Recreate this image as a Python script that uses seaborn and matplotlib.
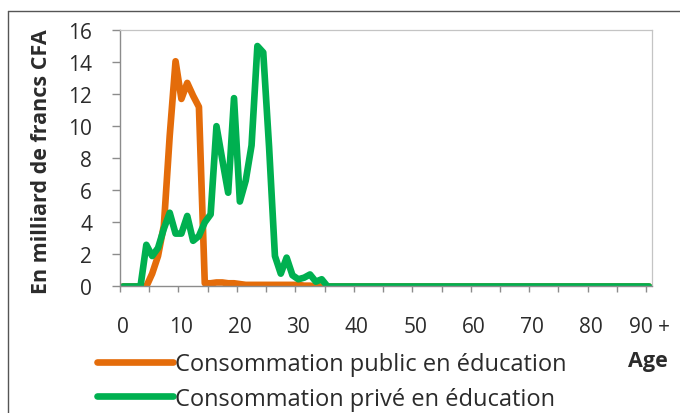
import numpy as np
import pandas as pd
import matplotlib
matplotlib.use("Agg")
import matplotlib.pyplot as plt
import seaborn as sns
from matplotlib.lines import Line2D

# ages 0 .. 90+ (one category per year)
ages = list(range(0, 91))

# consommation publique en education (milliards FCFA)
conso_public = [
    0, 0, 0, 0, 0, 0.8, 1.9, 3.8, 9.4, 14.05,
    11.7, 12.7, 11.9, 11.2, 0.2, 0.2, 0.25, 0.25, 0.2, 0.2,
    0.15, 0.1, 0.1, 0.1, 0.1, 0.1, 0.1, 0.1, 0.1, 0.1,
    0.1, 0.05, 0.05, 0, 0, 0, 0, 0, 0, 0,
    0, 0, 0, 0, 0, 0, 0, 0, 0, 0,
    0, 0, 0, 0, 0, 0, 0, 0, 0, 0,
    0, 0, 0, 0, 0, 0, 0, 0, 0, 0,
    0, 0, 0, 0, 0, 0, 0, 0, 0, 0,
    0, 0, 0, 0, 0, 0, 0, 0, 0, 0,
    0,
]

# consommation privee en education (milliards FCFA)
conso_prive = [
    0, 0, 0, 0, 2.6, 1.9, 2.4, 3.6, 4.6, 3.3,
    3.3, 4.4, 2.85, 3.15, 4.0, 4.5, 10.0, 7.9, 5.85, 11.75,
    5.3, 6.6, 8.8, 15.0, 14.6, 8.7, 1.9, 0.8, 1.8, 0.7,
    0.45, 0.55, 0.75, 0.3, 0.45, 0, 0, 0, 0, 0,
    0, 0, 0, 0, 0, 0, 0, 0, 0, 0,
    0, 0, 0, 0, 0, 0, 0, 0, 0, 0,
    0, 0, 0, 0, 0, 0, 0, 0, 0, 0,
    0, 0, 0, 0, 0, 0, 0, 0, 0, 0,
    0, 0, 0, 0, 0, 0, 0, 0, 0, 0,
    0,
]

series_labels = ["Consommation public en éducation", "Consommation privé en éducation"]
x_labels = ["0", "10", "20", "30", "40", "50", "60", "70", "80", "90 +"]

orange = "#E46C0A"
green = "#00B050"
txt = "#2b2b2b"

sns.set_style("white")
plt.rcParams['font.family'] = ['Open Sans', 'DejaVu Sans']

df = pd.DataFrame({"age": ages, "public": conso_public, "prive": conso_prive})
# category axis: each age sits in the middle of its slot
df["pos"] = df["age"] + 0.5

fig = plt.figure(figsize=(6.8, 4.14), dpi=100)
ax = fig.add_axes([0.1765, 0.3056, 0.7823, 0.6195])

sns.lineplot(data=df, x="pos", y="public", ax=ax, color=orange, lw=4.8,
             label=series_labels[0], solid_joinstyle="round", solid_capstyle="round")
sns.lineplot(data=df, x="pos", y="prive", ax=ax, color=green, lw=4.8,
             label=series_labels[1], solid_joinstyle="round", solid_capstyle="round")

ax.set_xlim(0, 91)
ax.set_ylim(0, 16)
ax.set_xlabel("")
ax.set_ylabel("")

for side in ["left", "bottom"]:
    ax.spines[side].set_color("#8c8c8c")
    ax.spines[side].set_linewidth(1.0)
for side in ["top", "right"]:
    ax.spines[side].set_color("#c4c4c4")
    ax.spines[side].set_linewidth(0.9)

ax.set_yticks(np.arange(0, 17, 2))
ax.tick_params(axis="y", direction="out", length=6, width=1, color="#8c8c8c",
               pad=14, labelsize=15, labelcolor=txt, left=True)

ax.set_xticks(np.arange(0, 91, 5))
ax.set_xticklabels([])
ax.set_xticks([a + 0.5 for a in ages[::10]], minor=True)
ax.set_xticklabels(x_labels, minor=True)
ax.tick_params(axis="x", which="major", direction="out", length=4.5, width=1,
               color="#8c8c8c", bottom=True)
ax.tick_params(axis="x", which="minor", length=0, pad=21, labelsize=15, labelcolor=txt)

handles, labels = ax.get_legend_handles_labels()
ax.get_legend().remove()
fig.legend(handles, labels, loc="upper left", bbox_to_anchor=(0.1426, 0.1473),
           frameon=False, fontsize=17, handlelength=3.2, handletextpad=0.12,
           labelspacing=0.45, borderpad=0, borderaxespad=0, labelcolor=txt)

fig.text(42 / 680, 1 - 162 / 414, "En milliard de francs CFA", rotation=90,
         ha="center", va="center", fontsize=15.5, fontweight="bold", color=txt)
fig.text(648 / 680, 1 - 362 / 414, "Age", ha="center", va="center",
         fontsize=15.5, fontweight="bold", color=txt)

# outer frame of the source figure (cut on the right and bottom)
fig.add_artist(Line2D([8 / 680, 8 / 680], [0, 1 - 12 / 414], transform=fig.transFigure,
                      color="#555555", lw=1))
fig.add_artist(Line2D([8 / 680, 1], [1 - 12 / 414, 1 - 12 / 414], transform=fig.transFigure,
                      color="#555555", lw=1))

fig.savefig("out.png", dpi=100)
